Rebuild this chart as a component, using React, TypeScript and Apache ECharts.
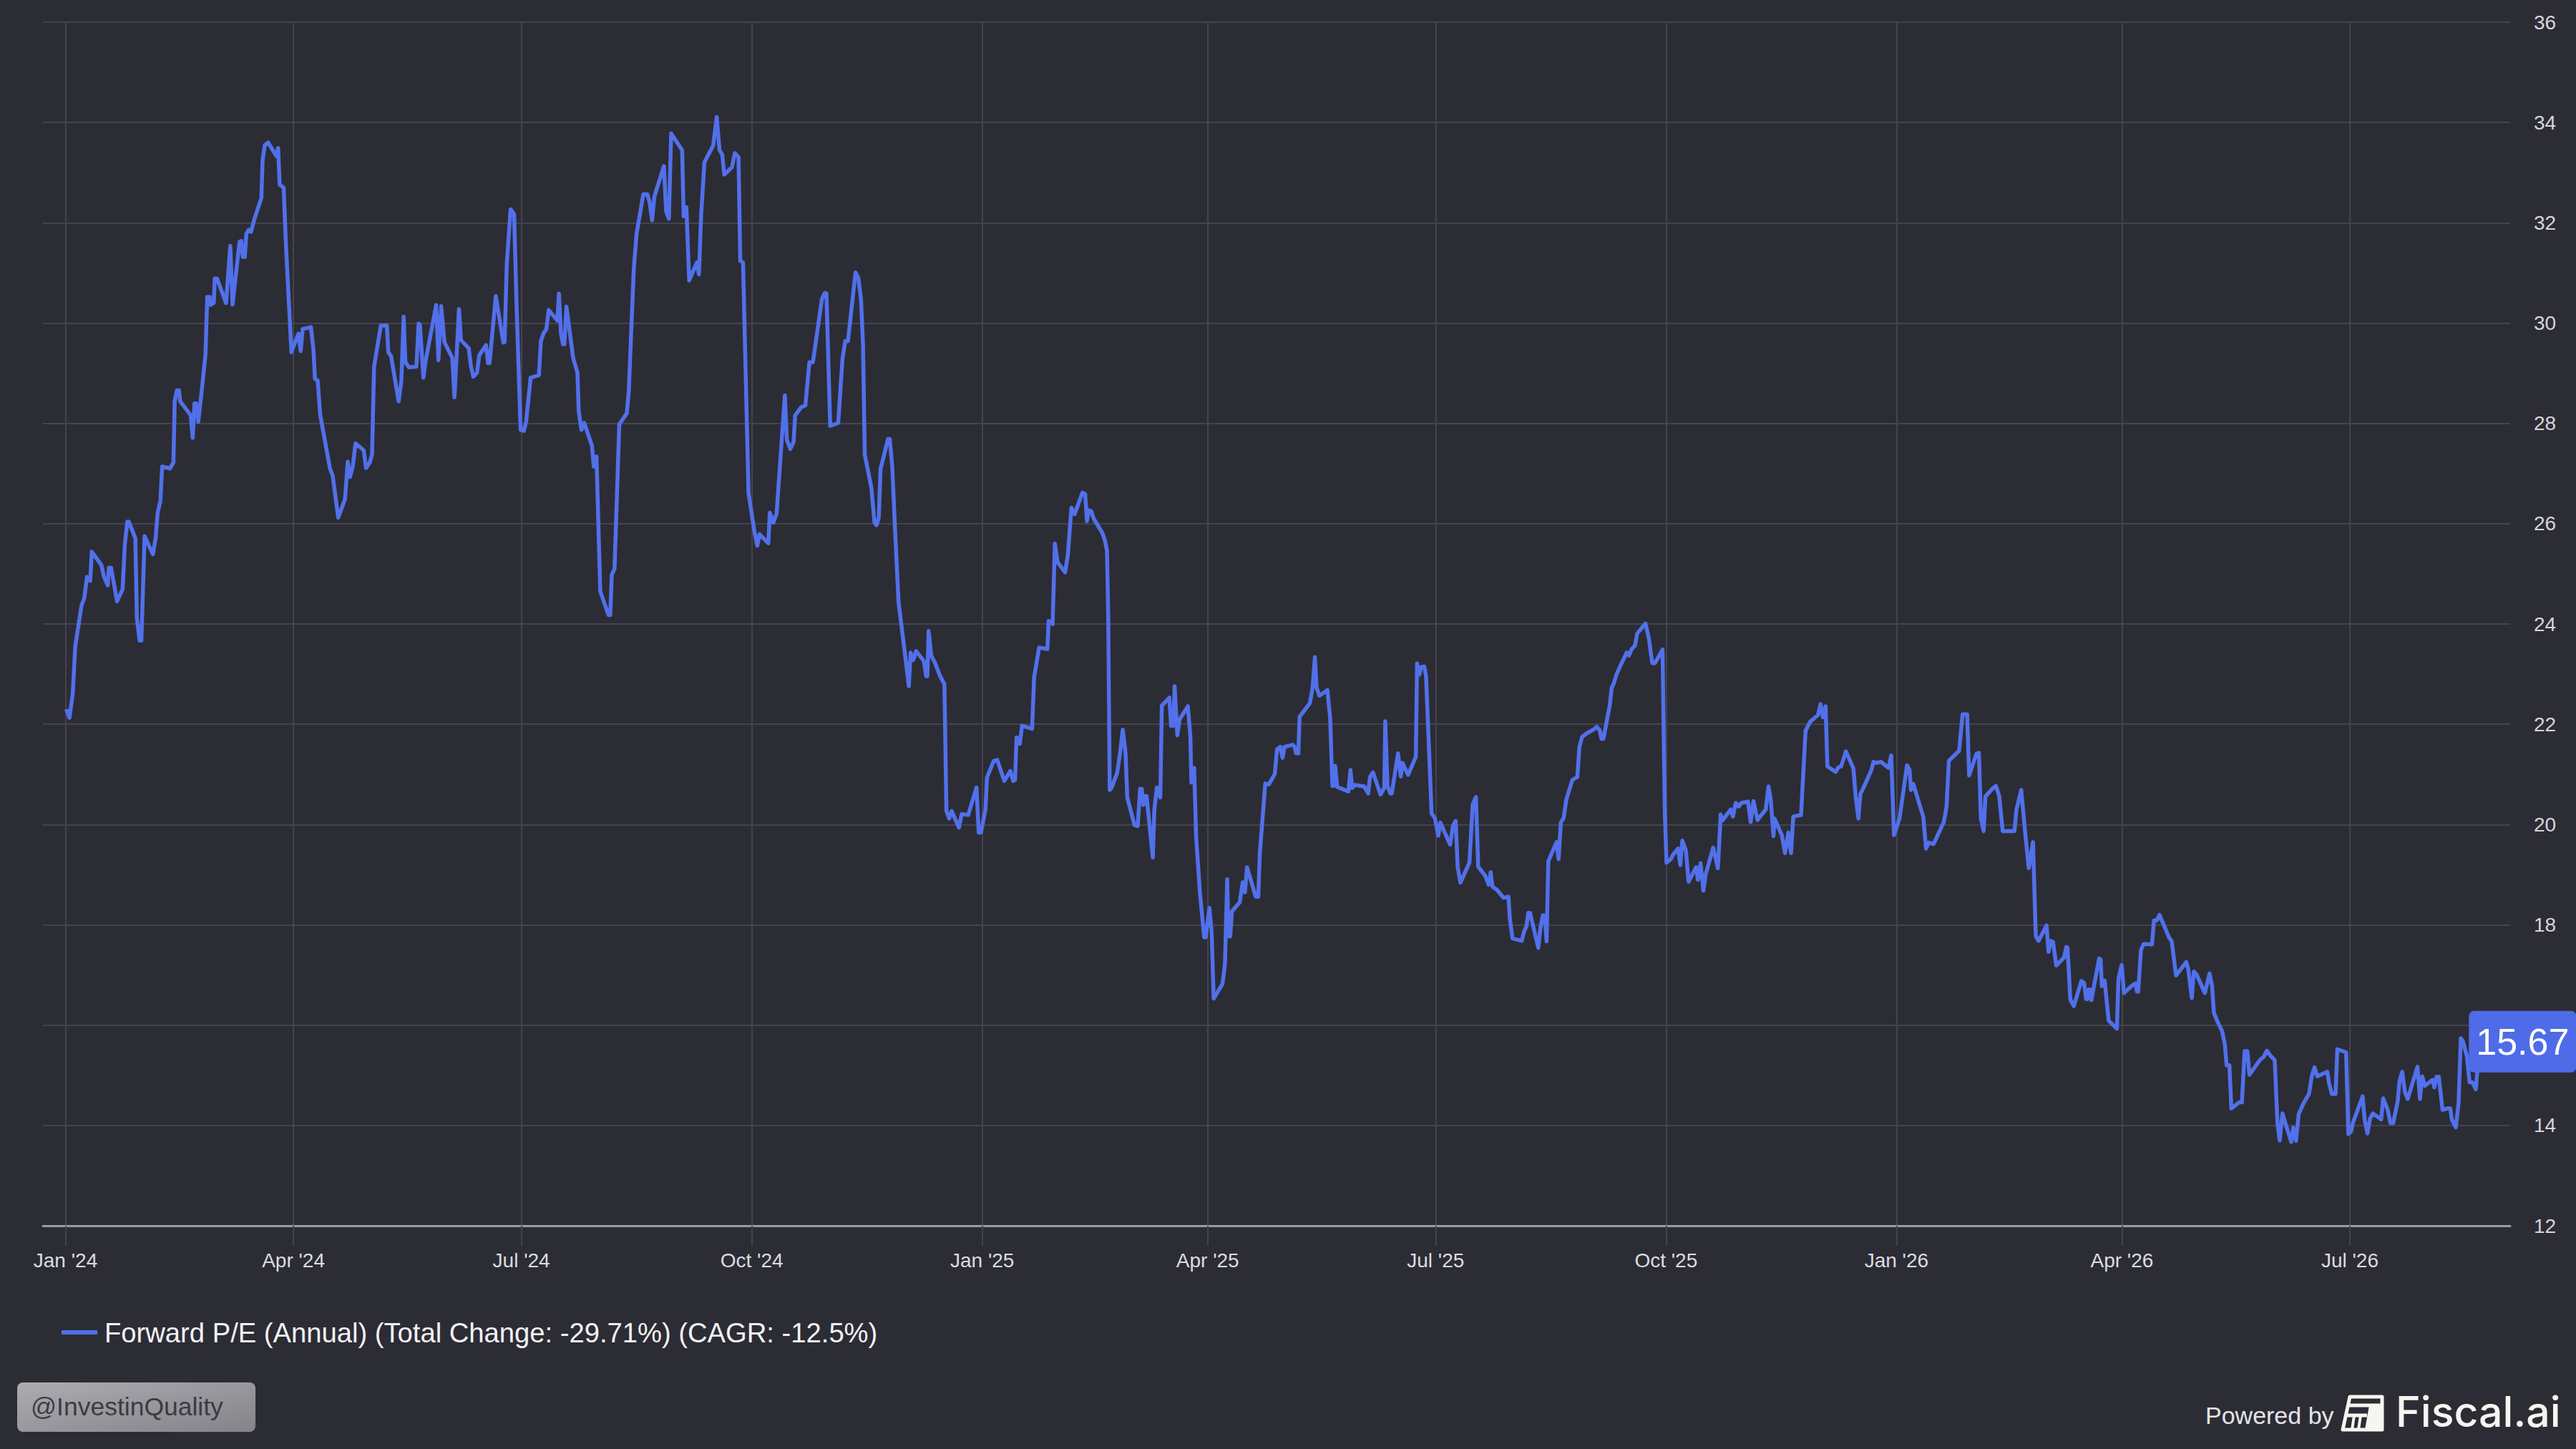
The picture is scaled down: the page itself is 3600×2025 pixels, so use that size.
import React, { useEffect, useRef } from "react";
import * as echarts from "echarts";

// ---- Data ----
// x: days since 2024-01-01, y: Forward P/E (Annual)
const peReadings: [number, number][] = [
  [0.3, 22.3], [1.6, 22.13], [2.9, 22.61], [3.9, 23.55], [6.4, 24.37], [7.5, 24.51], [8.6, 24.94], [9.9, 24.86],
  [10.5, 25.44], [14.3, 25.18], [15.4, 24.94], [16.9, 24.77], [17.3, 25.12], [18.2, 25.12], [20.6, 24.45], [22.8, 24.69],
  [23.7, 25.59], [24.7, 26.04], [25.3, 26.04], [27.9, 25.71], [28.5, 24.12], [29.6, 23.67], [30.3, 23.67], [31.6, 25.75],
  [34.9, 25.39], [36.0, 25.71], [36.8, 26.22], [37.9, 26.45], [38.6, 27.14], [41.7, 27.1], [43.1, 27.22], [43.6, 28.44],
  [44.5, 28.66], [45.3, 28.66], [45.8, 28.44], [50.0, 28.16], [50.8, 27.71], [51.5, 28.4], [52.2, 28.4], [53.0, 28.03],
  [54.4, 28.65], [55.9, 29.38], [56.6, 30.52], [57.6, 30.52], [57.9, 30.36], [59.2, 30.4], [59.6, 30.89], [60.5, 30.89],
  [64.1, 30.4], [65.8, 31.54], [66.7, 30.37], [69.5, 31.62], [70.2, 31.64], [70.8, 31.32], [71.6, 31.32], [72.2, 31.78],
  [73.2, 31.86], [74.1, 31.82], [75.4, 32.07], [78.2, 32.49], [78.7, 33.25], [79.6, 33.55], [80.9, 33.6], [84.2, 33.33],
  [84.9, 33.49], [85.5, 32.76], [87.1, 32.7], [88.0, 31.58], [90.2, 29.42], [93.0, 29.79], [93.9, 29.44], [94.7, 29.88],
  [98.0, 29.92], [99.0, 29.46], [99.6, 28.89], [100.7, 28.85], [101.7, 28.17], [105.6, 27.1], [106.7, 26.95], [108.9, 26.12],
  [111.6, 26.49], [112.7, 27.24], [113.6, 26.93], [114.7, 27.14], [115.8, 27.6], [119.1, 27.46], [120.0, 27.11], [121.5, 27.22],
  [122.4, 27.38], [123.2, 29.13], [125.9, 29.95], [128.3, 29.95], [128.9, 29.42], [130.0, 29.34], [133.0, 28.44], [134.1, 28.85],
  [135.0, 30.13], [135.7, 29.22], [137.1, 29.12], [140.1, 29.13], [141.0, 29.99], [141.5, 29.97], [142.9, 28.91], [143.7, 29.22],
  [148.0, 30.36], [148.9, 29.26], [150.0, 30.34], [151.3, 29.62], [154.4, 29.31], [155.3, 28.52], [157.1, 30.28], [157.9, 29.66],
  [161.0, 29.5], [161.9, 29.13], [162.8, 28.93], [164.3, 29.01], [165.2, 29.36], [167.9, 29.56], [168.7, 29.2], [169.3, 29.2],
  [170.7, 29.95], [171.8, 30.54], [174.8, 29.61], [175.3, 29.62], [176.2, 31.19], [177.7, 32.27], [179.1, 32.17], [180.2, 30.19],
  [181.7, 27.87], [183.0, 27.85], [183.9, 28.03], [185.7, 28.91], [189.0, 28.96], [189.8, 29.64], [190.9, 29.8], [192.0, 29.88],
  [192.9, 30.26], [196.4, 30.05], [197.0, 30.59], [197.8, 29.8], [198.6, 29.58], [199.2, 29.58], [200.0, 30.33], [202.7, 29.3],
  [204.4, 29.01], [204.9, 28.24], [206.0, 27.87], [207.1, 28.01], [210.2, 27.55], [210.9, 27.14], [212.0, 27.34], [213.5, 24.65],
  [216.8, 24.18], [217.5, 24.18], [218.1, 24.98], [219.2, 25.1], [221.1, 27.98], [224.1, 28.2], [224.9, 28.65], [226.9, 31.09],
  [228.0, 31.78], [230.7, 32.57], [232.3, 32.57], [233.2, 32.41], [234.2, 32.05], [235.1, 32.52], [238.9, 33.13], [239.8, 32.23],
  [240.9, 32.08], [241.8, 33.78], [246.2, 33.45], [246.8, 32.13], [247.9, 32.31], [249.0, 30.85], [252.1, 31.21], [252.9, 30.97],
  [253.8, 32.17], [255.1, 33.21], [258.6, 33.54], [260.0, 34.11], [261.1, 33.45], [262.2, 33.36], [263.0, 32.96], [266.1, 33.11],
  [267.2, 33.39], [268.7, 33.31], [269.4, 31.24], [270.5, 31.21], [272.7, 26.61], [275.1, 25.83], [276.2, 25.56], [277.1, 25.79],
  [280.6, 25.61], [281.2, 26.22], [282.6, 26.02], [283.9, 26.2], [287.2, 28.56], [288.0, 27.67], [289.4, 27.49], [290.7, 27.63],
  [291.3, 28.16], [293.7, 28.32], [295.4, 28.36], [297.0, 29.22], [298.4, 29.22], [302.0, 30.48], [303.1, 30.6], [303.8, 30.59],
  [305.3, 27.95], [308.5, 28.01], [310.2, 29.28], [311.3, 29.64], [312.4, 29.64], [315.4, 31.01], [316.5, 30.91], [317.6, 30.48],
  [318.4, 29.58], [319.1, 27.38], [321.7, 26.73], [323.0, 26.02], [323.8, 25.97], [324.7, 26.12], [325.4, 27.09], [328.4, 27.69],
  [329.1, 27.69], [330.1, 27.12], [331.2, 25.87], [332.6, 24.43], [335.2, 23.38], [336.7, 22.76], [337.4, 23.43], [338.5, 23.28],
  [339.6, 23.46], [342.7, 23.26], [343.6, 22.96], [344.1, 22.96], [344.6, 23.86], [345.7, 23.36], [347.1, 23.23], [349.2, 22.96],
  [350.9, 22.8], [351.7, 20.27], [352.8, 20.12], [353.8, 20.27], [356.7, 19.94], [357.8, 20.21], [360.4, 20.19], [363.7, 20.74],
  [364.6, 19.84], [365.5, 19.84], [367.3, 20.31], [367.9, 20.94], [370.6, 21.27], [372.0, 21.29], [374.8, 20.87], [377.2, 21.07],
  [378.3, 20.87], [379.1, 20.89], [379.7, 21.74], [381.0, 21.61], [381.9, 21.97], [385.9, 21.91], [386.7, 22.93], [388.7, 23.53],
  [392.0, 23.5], [392.5, 24.06], [394.1, 24.0], [395.0, 25.6], [396.1, 25.23], [399.1, 25.03], [400.2, 25.38], [401.6, 26.32],
  [402.9, 26.19], [406.0, 26.62], [407.1, 26.59], [407.8, 26.05], [408.6, 26.27], [409.5, 26.25], [410.6, 26.09], [413.9, 25.82],
  [415.0, 25.66], [415.8, 25.46], [416.3, 24.18], [416.9, 20.69], [417.7, 20.74], [419.9, 21.04], [421.0, 21.41], [422.1, 21.89],
  [423.2, 21.44], [423.9, 20.54], [426.8, 19.99], [428.1, 19.97], [429.0, 20.71], [429.7, 20.71], [430.3, 20.39], [430.8, 20.57],
  [431.6, 20.57], [434.1, 19.34], [434.7, 20.29], [435.7, 20.74], [437.1, 20.54], [437.7, 22.37], [440.7, 22.53], [441.4, 21.97],
  [442.3, 21.97], [442.8, 22.76], [443.9, 21.78], [444.8, 22.1], [448.1, 22.36], [449.1, 21.75], [449.5, 20.84], [450.5, 20.84],
  [450.6, 21.13], [451.4, 19.75], [452.9, 18.65], [454.6, 17.75], [455.2, 17.75], [456.7, 18.34], [457.6, 17.84], [458.4, 16.53],
  [461.9, 16.82], [462.9, 17.22], [463.8, 18.91], [464.3, 17.77], [465.0, 17.77], [465.7, 18.27], [468.8, 18.45], [470.0, 18.85],
  [470.9, 18.65], [471.7, 19.15], [475.2, 18.56], [476.2, 18.56], [476.8, 19.41], [479.0, 20.82], [480.4, 20.8], [482.8, 21.01],
  [483.7, 21.5], [485.0, 21.55], [485.9, 21.33], [486.7, 21.55], [490.0, 21.59], [490.7, 21.55], [491.3, 21.42], [492.2, 21.42],
  [492.7, 22.15], [496.8, 22.42], [497.9, 22.73], [498.8, 23.34], [499.5, 22.73], [500.6, 22.57], [503.8, 22.68], [504.9, 22.12],
  [505.8, 20.77], [506.3, 20.77], [506.9, 21.17], [507.7, 20.75], [512.2, 20.66], [513.0, 21.09], [513.7, 20.73], [514.8, 20.79],
  [518.5, 20.76], [520.1, 20.62], [520.8, 20.95], [522.0, 21.04], [525.0, 20.6], [526.5, 20.73], [526.9, 22.06], [527.8, 20.77],
  [528.9, 20.62], [529.5, 20.62], [532.0, 21.42], [533.1, 20.96], [533.8, 21.23], [536.0, 20.99], [539.1, 21.35], [539.6, 23.21],
  [540.5, 22.99], [541.2, 23.14], [542.5, 23.15], [543.2, 22.95], [545.4, 20.22], [546.7, 20.13], [548.1, 19.78], [548.9, 20.04],
  [552.8, 19.6], [553.9, 19.97], [555.0, 20.07], [555.8, 19.16], [556.9, 18.84], [560.5, 19.24], [561.8, 20.4], [563.1, 20.55],
  [564.0, 19.16], [566.8, 18.98], [568.2, 18.8], [569.0, 19.05], [569.7, 18.76], [571.5, 18.7], [574.1, 18.54], [576.1, 18.56],
  [576.6, 18.14], [577.7, 17.73], [581.4, 17.68], [582.2, 17.85], [583.3, 17.98], [584.0, 18.24], [584.7, 18.24], [588.0, 17.54],
  [588.8, 17.92], [589.8, 18.19], [590.6, 18.19], [591.3, 17.67], [592.0, 19.27], [595.3, 19.65], [596.1, 19.31], [597.0, 20.04],
  [598.1, 20.13], [599.2, 20.5], [601.6, 20.89], [603.6, 20.95], [604.4, 21.55], [605.5, 21.75], [607.1, 21.81], [610.2, 21.9],
  [611.3, 21.95], [612.5, 21.88], [613.2, 21.71], [614.0, 21.71], [616.5, 22.37], [617.3, 22.73], [618.1, 22.81], [619.2, 22.99],
  [620.6, 23.15], [623.3, 23.43], [624.2, 23.37], [625.3, 23.5], [626.6, 23.57], [627.5, 23.81], [630.8, 24.01], [632.2, 23.7],
  [633.0, 23.39], [633.5, 23.22], [634.6, 23.22], [637.6, 23.49], [638.5, 20.26], [639.2, 19.24], [640.9, 19.31], [641.8, 19.4],
  [643.8, 19.52], [644.7, 19.19], [645.5, 19.68], [646.9, 19.49], [648.0, 18.86], [651.0, 19.15], [651.7, 18.9], [652.8, 19.23],
  [653.9, 18.68], [654.8, 19.0], [657.8, 19.54], [659.7, 19.13], [660.8, 20.2], [661.5, 20.08], [664.8, 20.3], [665.7, 20.16],
  [666.8, 20.43], [668.1, 20.36], [669.0, 20.43], [671.7, 20.46], [672.8, 20.05], [673.9, 20.47], [675.5, 20.09], [678.8, 20.3],
  [679.9, 20.76], [680.8, 20.5], [681.9, 19.77], [682.3, 20.12], [685.2, 19.79], [686.5, 19.43], [687.8, 19.84], [688.9, 19.43],
  [689.8, 20.16], [692.9, 20.19], [694.7, 21.87], [696.5, 22.05], [699.6, 22.18], [700.7, 22.4], [701.6, 22.14], [702.7, 22.36],
  [703.4, 21.16], [706.7, 21.05], [707.8, 21.14], [708.9, 21.16], [710.8, 21.46], [713.8, 21.12], [714.7, 20.56], [715.8, 20.12],
  [716.6, 20.61], [717.7, 20.72], [721.0, 21.09], [721.8, 21.25], [722.9, 21.23], [724.8, 21.25], [727.8, 21.13], [728.9, 21.38],
  [730.0, 19.79], [732.2, 20.12], [735.2, 21.18], [736.2, 21.09], [736.8, 20.69], [737.7, 20.81], [741.7, 20.15], [742.8, 19.52],
  [743.9, 19.64], [745.8, 19.61], [749.9, 20.05], [751.0, 20.36], [751.9, 21.27], [756.0, 21.47], [757.4, 22.2], [759.2, 22.2],
  [760.0, 20.98], [762.9, 21.41], [763.9, 21.43], [764.7, 20.12], [765.8, 19.87], [766.5, 20.56], [769.4, 20.72], [770.7, 20.77],
  [772.0, 20.57], [773.4, 19.87], [778.1, 19.87], [778.9, 20.3], [780.8, 20.69], [782.2, 19.93], [783.8, 19.13], [785.5, 19.65],
  [786.6, 17.78], [787.7, 17.68], [790.9, 17.99], [791.7, 17.46], [792.6, 17.68], [793.5, 17.66], [794.8, 17.19], [797.9, 17.35],
  [798.8, 17.56], [799.3, 17.54], [800.4, 16.51], [801.8, 16.38], [804.8, 16.88], [805.9, 16.84], [806.7, 16.52], [807.3, 16.52],
  [807.7, 16.71], [808.4, 16.71], [808.8, 16.5], [811.9, 17.33], [812.5, 17.31], [813.0, 16.78], [814.1, 16.89], [815.7, 16.09],
  [819.0, 15.93], [819.6, 16.92], [820.9, 17.2], [821.8, 16.64], [825.3, 16.8], [826.4, 16.83], [827.0, 16.67], [827.5, 16.67],
  [828.6, 17.5], [829.7, 17.62], [833.0, 17.61], [833.8, 18.09], [834.9, 18.09], [836.0, 18.2], [839.8, 17.75], [840.9, 17.67],
  [842.6, 16.99], [846.7, 17.26], [847.5, 17.11], [848.9, 16.54], [849.7, 17.07], [850.8, 17.01], [854.1, 16.64], [856.0, 17.03],
  [857.0, 16.78], [857.7, 16.25], [859.0, 16.09], [861.0, 15.88], [862.1, 15.62], [862.8, 15.2], [863.9, 15.2], [864.7, 14.34],
  [867.8, 14.46], [868.9, 14.46], [870.0, 15.48], [871.1, 15.48], [871.9, 15.01], [876.0, 15.3], [877.6, 15.37], [878.9, 15.49],
  [879.8, 15.42], [882.0, 15.3], [883.1, 14.05], [884.0, 13.7], [885.1, 14.24], [886.4, 14.02], [888.6, 13.67], [889.4, 13.96],
  [890.5, 13.69], [891.6, 14.23], [893.5, 14.44], [895.7, 14.63], [896.8, 14.98], [897.9, 15.16], [899.0, 14.98], [903.0, 15.07],
  [903.7, 14.84], [904.8, 14.63], [906.3, 14.63], [907.0, 15.52], [910.5, 15.46], [911.4, 13.83], [912.5, 13.88], [913.2, 14.05],
  [917.1, 14.58], [917.9, 14.12], [919.0, 13.84], [920.1, 14.14], [921.2, 14.24], [924.5, 14.12], [925.3, 14.54], [927.1, 14.31],
  [928.2, 14.05], [929.3, 14.05], [931.1, 14.48], [931.8, 14.88], [932.9, 15.07], [934.0, 14.66], [935.1, 14.53], [939.0, 15.17],
  [940.0, 14.53], [940.9, 14.98], [942.0, 14.79], [945.0, 14.91], [945.7, 14.76], [946.6, 14.97], [947.5, 14.97], [949.0, 14.31],
  [951.0, 14.34], [952.1, 14.34], [952.7, 14.12], [954.3, 13.96], [955.4, 14.44], [956.3, 15.74], [957.1, 15.68], [958.7, 15.39],
  [959.8, 14.86], [960.9, 14.86], [962.3, 14.72], [963.8, 15.67],
];

const tickDates = [
  "2024-01-01", "2024-04-01", "2024-07-01", "2024-10-01", "2025-01-01", "2025-04-01",
  "2025-07-01", "2025-10-01", "2026-01-01", "2026-04-01", "2026-07-01",
];
const tickLabels = [
  "Jan '24", "Apr '24", "Jul '24", "Oct '24", "Jan '25", "Apr '25",
  "Jul '25", "Oct '25", "Jan '26", "Apr '26", "Jul '26",
];
const yTicks = [12, 14, 16, 18, 20, 22, 24, 26, 28, 30, 32, 34, 36];
const seriesName = "Forward P/E (Annual) (Total Change: -29.71%) (CAGR: -12.5%)";
const axisStartDate = "2023-12-23";
const axisEndDate = "2026-09-03";

const DAY = 86400000;
const toTime = (s: string) => {
  const [y, m, d] = s.split("-").map(Number);
  return Date.UTC(y, m - 1, d);
};

const FONT = "'Liberation Sans', Arial, Helvetica, sans-serif";
const BG = "#2c2c35";
const LINE_COLOR = "#5170ea";
const GRID_COLOR = "#44444e";
const BOX_PATH =
  "path://M8,0 H142 Q150,0 150,8 V78 Q150,86 142,86 H8 Q0,86 0,78 V8 Q0,0 8,0 Z";

export default function App() {
  const ref = useRef<HTMLDivElement>(null);

  useEffect(() => {
    document.body.style.margin = "0";
    document.body.style.background = BG;
    if (!ref.current) return;
    const chart = echarts.init(ref.current, null, { renderer: "svg" });

    const start = toTime("2024-01-01");
    const data = peReadings.map(([d, v]) => [start + d * DAY, v]);
    const last = data[data.length - 1];
    const lastValue = last[1];
    const tickTimes = tickDates.map(toTime);

    const labelFor = (val: number) => {
      let best = 0;
      let bd = Infinity;
      tickTimes.forEach((t, i) => {
        const dd = Math.abs(t - val);
        if (dd < bd) {
          bd = dd;
          best = i;
        }
      });
      return bd < 5 * DAY ? tickLabels[best] : "";
    };

    const option: any = {
      animation: false,
      backgroundColor: BG,
      textStyle: { fontFamily: FONT },
      grid: { left: 60, right: 92, top: 31, bottom: 312, containLabel: false },
      legend: {
        show: true,
        left: 81,
        top: 1838,
        icon: "rect",
        itemWidth: 50,
        itemHeight: 6,
        data: [seriesName],
        textStyle: { color: "#f2f2f4", fontSize: 38.2, fontFamily: FONT, padding: [0, 0, 0, 5] },
      },
      xAxis: {
        type: "value",
        min: toTime(axisStartDate),
        max: toTime(axisEndDate),
        axisLine: { show: true, lineStyle: { color: "#9a9aa2", width: 3 } },
        axisTick: {
          show: true,
          customValues: tickTimes,
          length: 28,
          lineStyle: { color: GRID_COLOR, width: 2 },
        },
        axisLabel: {
          show: true,
          customValues: tickTimes,
          formatter: (v: number) => labelFor(v),
          color: "#dcdce0",
          fontSize: 28,
          fontFamily: FONT,
          margin: 34,
          showMinLabel: true,
          showMaxLabel: true,
        },
        splitLine: { show: true, lineStyle: { color: GRID_COLOR, width: 2 } },
      },
      yAxis: {
        type: "value",
        position: "right",
        min: yTicks[0],
        max: yTicks[yTicks.length - 1],
        interval: 2,
        axisLine: { show: false },
        axisTick: { show: false },
        axisLabel: {
          color: "#d6d6da",
          fontSize: 28,
          fontFamily: FONT,
          margin: 33,
          // the tick label under the last-value box is covered by it
          formatter: (v: number) => (Math.abs(v - lastValue) < 0.6 ? "" : String(v)),
        },
        splitLine: { show: true, lineStyle: { color: GRID_COLOR, width: 2 } },
      },
      series: [
        {
          name: seriesName,
          type: "line",
          data,
          showSymbol: false,
          symbol: "none",
          smooth: false,
          color: LINE_COLOR,
          lineStyle: { color: LINE_COLOR, width: 5.5, join: "round" },
          markPoint: {
            symbol: BOX_PATH,
            symbolSize: [150, 86],
            symbolOffset: [60, 0],
            itemStyle: { color: "#4f6be8" },
            label: {
              show: true,
              position: "inside",
              color: "#ffffff",
              fontSize: 52,
              fontFamily: FONT,
              formatter: (p: any) => Number(p.value).toFixed(2),
            },
            data: [{ coord: last, value: lastValue }],
          },
        },
      ],
      graphic: [
        {
          type: "rect",
          left: 24,
          top: 1932,
          shape: { width: 333, height: 69, r: 8 },
          style: {
            fill: new echarts.graphic.LinearGradient(0, 0, 1, 1, [
              { offset: 0, color: "#acacb1" },
              { offset: 1, color: "#838389" },
            ]),
          },
          z: 10,
        },
        {
          type: "text",
          left: 43,
          top: 1948,
          style: { text: "@InvestinQuality", fill: "#3b3b43", fontSize: 35.5, fontFamily: FONT },
          z: 11,
        },
        {
          type: "text",
          left: 3082,
          top: 1961,
          style: { text: "Powered by", fill: "#e4e4e8", fontSize: 34, fontFamily: FONT },
          z: 11,
        },
        {
          type: "group",
          x: 3274,
          y: 1952,
          z: 11,
          children: [
            {
              type: "polygon",
              shape: { points: [[10, 0], [55, 0], [55, 46], [0, 46]] },
              style: { fill: "none", stroke: "#f7f5f0", lineWidth: 5, lineJoin: "round" },
            },
            {
              type: "line",
              shape: { x1: 7, y1: 12, x2: 55, y2: 12 },
              style: { stroke: "#f7f5f0", lineWidth: 5 },
            },
            {
              type: "polygon",
              shape: { points: [[37, 12], [55, 12], [55, 46], [31, 46]] },
              style: { fill: "#f7f5f0" },
            },
            {
              type: "line",
              shape: { x1: 4, y1: 26, x2: 34, y2: 26 },
              style: { stroke: "#f7f5f0", lineWidth: 5 },
            },
            {
              type: "line",
              shape: { x1: 16, y1: 26, x2: 13, y2: 46 },
              style: { stroke: "#f7f5f0", lineWidth: 4 },
            },
            {
              type: "line",
              shape: { x1: 25, y1: 26, x2: 22, y2: 46 },
              style: { stroke: "#f7f5f0", lineWidth: 4 },
            },
          ],
        },
        {
          type: "text",
          left: 3348,
          top: 1943,
          style: { text: "Fiscal.ai", fill: "#f7f5f0", fontSize: 59, fontFamily: "Inter, 'Liberation Sans', sans-serif", fontWeight: 500 },
          z: 11,
        },
      ],
    };

    chart.setOption(option);
    return () => chart.dispose();
  }, []);

  return (
    <div
      ref={ref}
      style={{ position: "fixed", left: 0, top: 0, width: "3600px", height: "2025px", background: BG }}
    />
  );
}
